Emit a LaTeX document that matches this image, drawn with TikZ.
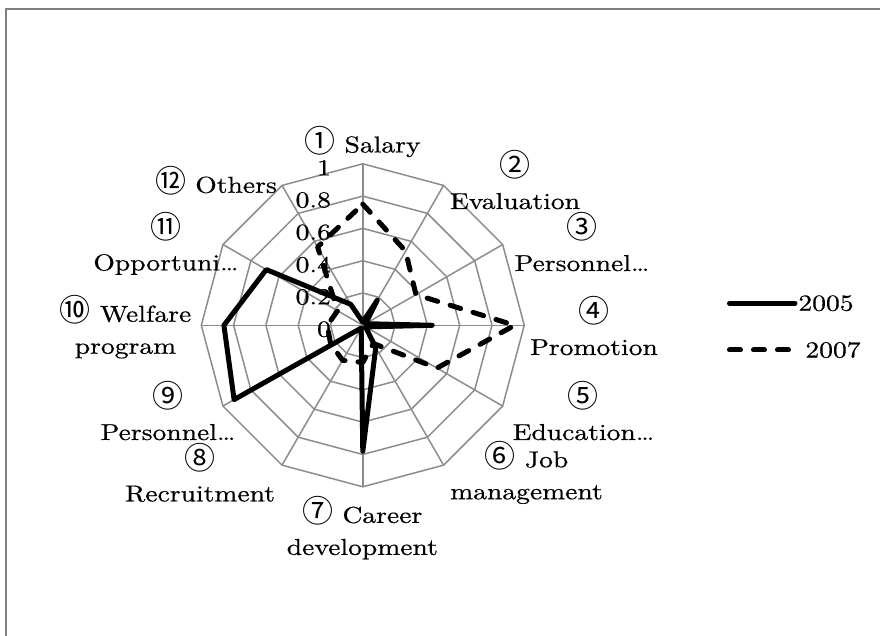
\documentclass[tikz,border=0pt]{standalone}
\usepackage{fontspec}
\setmainfont{lmroman10-regular.otf}[FakeStretch=1.2,FakeBold=0.6]
\newfontfamily\circfont{Noto Sans CJK JP}
\usepackage{tikz}
\newcommand{\radius}{161.5}
\newcommand{\lblsize}{\fontsize{11.5}{16}\selectfont}
\newcommand{\cn}[1]{{\circfont\fontsize{15.5}{15.5}\selectfont #1}}
\definecolor{webGray}{RGB}{140,140,140}
\definecolor{borderGray}{RGB}{128,128,128}
\usetikzlibrary{calc}
\tikzset{
  font=\lblsize,
  webline/.style={draw=webGray,line width=0.75pt},
  border/.style={draw=borderGray,line width=1pt},
  yrA/.style={draw,line width=2.5pt,line join=round,line cap=round},
  yrB/.style={yrA,dash pattern=on 5.5pt off 6.5pt},
  axlbl/.style={anchor=east,inner sep=0pt},
  catlbl/.style={align=center,inner sep=0pt},
  keylbl/.style={anchor=west,inner sep=0pt},
}

\begin{document}
\begin{tikzpicture}[x=0.5pt,y=0.5pt]
  \useasboundingbox (-362.8,-310.7) rectangle (517.2,325.3);
  \draw[border] (-356.8,-310.7) -- (-356.8,315.8) -- (517.2,315.8);
  \coordinate (o) at (0,0);
  % web
  \foreach \i in {1,...,5}
    \draw[webline] (90:\i*0.2*\radius) \foreach \k in {1,...,11} {-- (90-\k*30:\i*0.2*\radius)} -- cycle;
  \foreach \k in {0,...,11}
    \draw[webline] (o) -- (90-\k*30:\radius);
  % scale
  \foreach \v/\t [count=\i] in {0/0,0.2/0.2,0.4/0.4,0.6/0.6,0.8/0.8,1/1}
    \node (v\i) [axlbl] at (-31.5,\v*\radius-4) {\t};
  % categories
  \node (c1) [catlbl] at (-0.3,183.6) {\cn{①} Salary};
  \node (c2) [catlbl] at (152.2,145.3) {\cn{②}\\Evaluation};
  \node (c3) [catlbl] at (219.2,83.3) {\cn{③}\\Personnel…};
  \node (c4) [catlbl] at (231.2,-0.7) {\cn{④}\\Promotion};
  \node (c5) [catlbl] at (220.7,-85.7) {\cn{⑤}\\Education…};
  \node (c6) [catlbl] at (163.7,-147.2) {\cn{⑥} Job\\management};
  \node (c7) [catlbl] at (-0.5,-202.7) {\cn{⑦} Career\\development};
  \node (c8) [catlbl] at (-162.8,-147.2) {\cn{⑧}\\Recruitment};
  \node (c9) [catlbl] at (-194.8,-85.7) {\cn{⑨}\\Personnel…};
  \node (c10) [catlbl] at (-237.3,-1.7) {\cn{⑩} Welfare\\program};
  \node (c11) [catlbl] at (-196.8,81.8) {\cn{⑪}\\Opportuni…};
  \node (c12) [catlbl] at (-146.8,144.3) {\cn{⑫} Others};
  % 2005
  \draw[yrA] (90:0.02*\radius) -- (60:0.18*\radius) -- (30:0.02*\radius) -- (0:0.43*\radius)
    -- (-30:0.02*\radius) -- (-60:0.16*\radius) -- (-90:0.78*\radius) -- (-120:0.02*\radius)
    -- (-150:0.92*\radius) -- (-180:0.86*\radius) -- (-210:0.69*\radius) -- (-240:0.15*\radius) -- cycle;
  % 2007
  \draw[yrB] (90:0.75*\radius) -- (60:0.53*\radius) -- (30:0.38*\radius) -- (0:0.94*\radius)
    -- (-30:0.53*\radius) -- (-60:0.13*\radius) -- (-90:0.23*\radius) -- (-120:0.25*\radius)
    -- (-150:0.23*\radius) -- (-180:0.22*\radius) -- (-210:0.18*\radius) -- (-240:0.56*\radius) -- cycle;
  % key
  \coordinate (kA) at (366.7,22);
  \coordinate (kB) at (366.7,-24.7);
  \node (tA) [keylbl] at (435.2,22) {2005};
  \node (tB) [keylbl] at (442.2,-24.7) {2007};
  \draw[yrA,shorten >=1.5pt] (kA) -- (kA -| tA.west);
  \draw[yrB,shorten >=7.5pt] (kB) -- (kB -| tB.west);
\end{tikzpicture}
\end{document}
